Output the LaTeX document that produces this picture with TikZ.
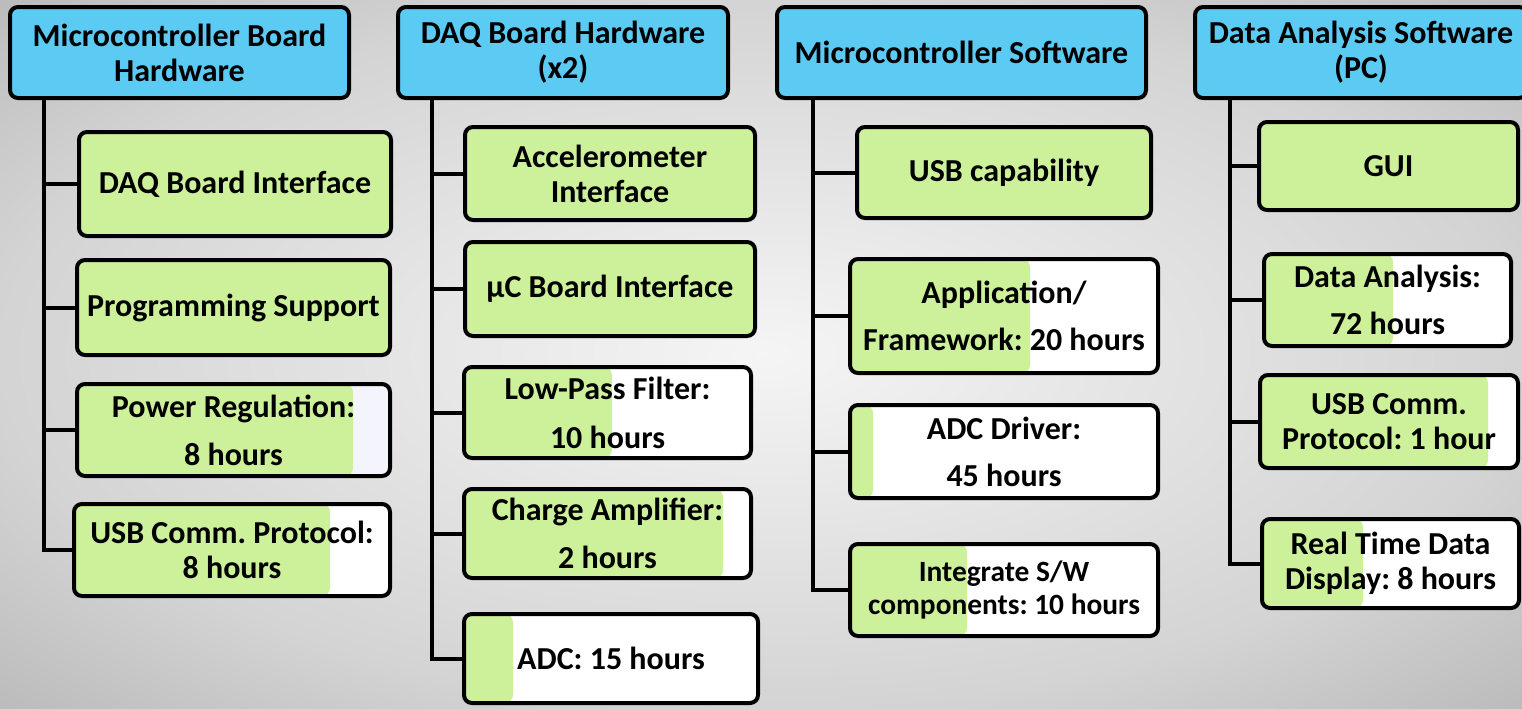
\documentclass[tikz,border=0pt]{standalone}
\usepackage{fontspec}
\setmainfont{Carlito}
\frenchspacing
\usetikzlibrary{positioning}
\definecolor{headblue}{HTML}{5CCBF4}
\definecolor{taskgreen}{HTML}{CDF19A}
\definecolor{restlav}{HTML}{F4F5FC}
\pgfdeclareradialshading{bgglow}{\pgfpoint{0bp}{0bp}}{color(0bp)=(white!96!black); color(25bp)=(white!83!black); color(50bp)=(black!40); color(72bp)=(black!50)}

\begin{document}
\begin{tikzpicture}[
    x=0.5pt, y=-0.5pt,
    every node/.style={font=\bfseries\fontsize{16}{17.5}\selectfont},
    head/.style={draw, line width=2pt, rounded corners=4pt, fill=headblue,
                 align=center, inner sep=0pt},
    task/.style={draw, line width=2pt, rounded corners=4pt, fill=taskgreen,
                 align=center, inner sep=0pt},
    todo/.style={task, fill=white,
                 path picture={\fill[taskgreen] (path picture bounding box.south west)
                   rectangle ([xshift=#1]path picture bounding box.north west);}},
    tree/.style={line width=2pt},
]

\clip (0,0) rectangle (1522,708);
\shade[shading=bgglow] (0,0) rectangle (1522,708);

% column headers
\node[head, minimum width=169.5pt, minimum height=45.5pt] (mcuhw) at (179.5,52.5) {Microcontroller Board\\Hardware};
\node[head, minimum width=165pt, minimum height=45.5pt] (daqhw) at (563,52.5) {DAQ Board Hardware\\(x2)};
\node[head, minimum width=184.5pt, minimum height=45.5pt] (mcusw) at (961.5,52.5) {Microcontroller Software};
\node[head, minimum width=166pt, minimum height=45.5pt] (pcsw) at (1361,52.5) {Data Analysis Software\\(PC)};

% microcontroller board hardware
\node[task, minimum width=156pt, minimum height=52pt] (daqif) at (235,184) {DAQ Board Interface};
\node[task, minimum width=156.5pt, minimum height=47.5pt] (prog) at (233.5,307.5) {Programming Support};
\node[todo=138pt, fill=restlav, minimum width=156.5pt, minimum height=46pt] (power) at (233.5,430) {Power Regulation:\\[6.5pt]8 hours};
\node[todo=128pt, minimum width=158pt, minimum height=46pt] (usbhw) at (232,550) {USB Comm. Protocol:\\8 hours};

% DAQ board hardware
\node[task, minimum width=145pt, minimum height=46.5pt] (accel) at (610,173.5) {Accelerometer\\Interface};
\node[task, minimum width=145pt, minimum height=47pt] (ucif) at (610,289) {µC Board Interface};
\node[todo=74pt, minimum width=143.5pt, minimum height=45.5pt] (lpf) at (607.5,412.5) {Low-Pass Filter:\\[7pt]10 hours};
\node[todo=129.5pt, minimum width=143.5pt, minimum height=44.5pt] (charge) at (607.5,533.5) {Charge Amplifier:\\[6.5pt]2 hours};
\node[todo=24.5pt, minimum width=147pt, minimum height=44.5pt] (adc) at (611,658.5) {ADC: 15 hours};

% microcontroller software
\node[task, minimum width=147pt, minimum height=45.5pt] (usbcap) at (1004,172.5) {USB capability};
\node[todo=90pt, minimum width=154pt, minimum height=57pt] (app) at (1004,316) {Application/\\[6pt]Framework: 20 hours};
\node[todo=11.5pt, minimum width=154pt, minimum height=46.5pt] (adcdrv) at (1004,451.5) {ADC Driver:\\[6pt]45 hours};
\node[todo=58.5pt, minimum width=154pt, minimum height=46pt,
      font=\bfseries\fontsize{14.7}{16.5}\selectfont] (integ) at (1004,590) {Integrate S/W\\components: 10 hours};

% data analysis software
\node[task, minimum width=129.5pt, minimum height=44pt] (gui) at (1388.5,166) {GUI};
\node[todo=64.5pt, minimum width=123.5pt, minimum height=46pt] (anal) at (1387.5,300) {Data Analysis:\\[6pt]72 hours};
\node[todo=114pt, minimum width=129pt, minimum height=46.5pt] (usbpc) at (1389,421.5) {USB Comm.\\Protocol: 1 hour};
\node[todo=50.5pt, minimum width=128.5pt, minimum height=44.5pt] (rtd) at (1390.5,563.5) {Real Time Data\\Display: 8 hours};

% tree lines
\coordinate (t1) at (44,99);
\coordinate (t2) at (432,99);
\coordinate (t3) at (813,99);
\coordinate (t4) at (1230,99);
\draw[tree] (t1) |- (usbhw.west);
\draw[tree] (t2) |- (adc.west);
\draw[tree] (t3) |- (integ.west);
\draw[tree] (t4) |- (rtd.west);
\foreach \c in {daqif, prog, power} \draw[tree] (\c.west) -- (\c.west -| t1);
\foreach \c in {accel, ucif, lpf, charge} \draw[tree] (\c.west) -- (\c.west -| t2);
\foreach \c in {usbcap, app, adcdrv} \draw[tree] (\c.west) -- (\c.west -| t3);
\foreach \c in {gui, anal, usbpc} \draw[tree] (\c.west) -- (\c.west -| t4);

\end{tikzpicture}
\end{document}
